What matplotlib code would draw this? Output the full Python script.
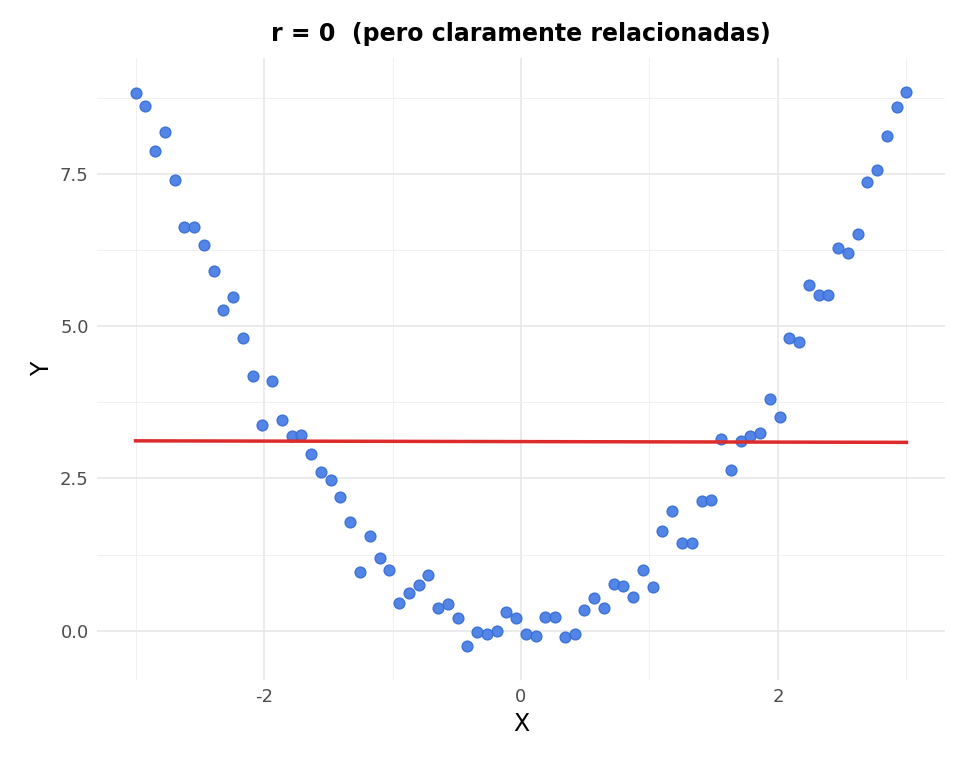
import numpy as np
import matplotlib
matplotlib.use("Agg")
import matplotlib.pyplot as plt
from matplotlib.ticker import MultipleLocator

x = np.linspace(-3, 3, 80)
y = [8.83,8.62,7.88,8.19,7.39,6.63,6.63,6.33,5.90,5.27,5.48,4.81,4.18,3.38,4.09,3.45,3.19,3.21,2.90,2.60,
     2.47,2.20,1.78,0.96,1.55,1.19,0.99,0.45,0.61,0.75,0.91,0.37,0.43,0.21,-0.26,-0.03,-0.06,0.0,0.30,0.21,
     -0.06,-0.08,0.22,0.22,-0.11,-0.05,0.34,0.54,0.37,0.77,0.74,0.56,0.99,0.71,1.63,1.97,1.44,1.44,2.13,2.15,
     3.14,2.64,3.12,3.19,3.24,3.81,3.51,4.81,4.73,5.67,5.51,5.51,6.28,6.20,6.51,7.37,7.56,8.12,8.59,8.85]
y = np.array(y)

fig = plt.figure(figsize=(9.6, 7.68), dpi=100)
ax = fig.add_axes([97/960, 1-680/768, 848/960, 622/768])
ax.scatter(x, y, s=60, color="#4a7fe6", edgecolor="#3a6fd6", alpha=0.95, zorder=3)
b, a = np.polyfit(x, y, 1)
xs = np.array([-3, 3])
ax.plot(xs, a + b*xs, color="#dd2a2a", lw=2.5, zorder=4)

ax.set_xlim(-3.3, 3.3)
ax.set_ylim(-0.81, 9.4)
ax.xaxis.set_major_locator(MultipleLocator(2))
ax.xaxis.set_minor_locator(MultipleLocator(1))
ax.yaxis.set_major_locator(MultipleLocator(2.5))
ax.yaxis.set_minor_locator(MultipleLocator(1.25))
ax.grid(which="major", color="#e6e6e6", lw=1.1)
ax.grid(which="minor", color="#f0f0f0", lw=0.7)
ax.set_axisbelow(True)
for s in ax.spines.values():
    s.set_visible(False)
ax.tick_params(which="both", length=0, labelsize=13, labelcolor="#4d4d4d", pad=6)
ax.set_xticks([-2, 0, 2])
ax.set_xticklabels(["-2", "0", "2"])
ax.set_yticks([0, 2.5, 5, 7.5])
ax.set_yticklabels(["0.0", "2.5", "5.0", "7.5"])
ax.set_xlabel("X", fontsize=17)
ax.set_ylabel("Y", fontsize=17)
ax.set_title("r = 0  (pero claramente relacionadas)", fontsize=17, fontweight="bold", pad=12)
fig.savefig("out.png")
